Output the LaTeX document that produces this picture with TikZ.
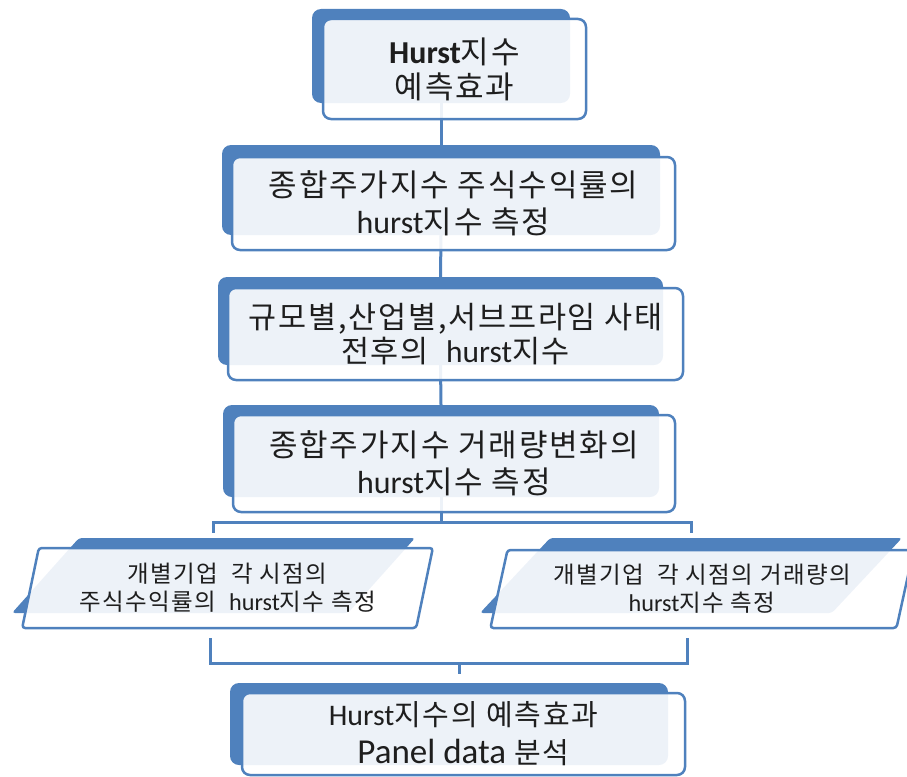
\documentclass[tikz,border=0pt]{standalone}
\usepackage{fontspec}
\setmainfont[LetterSpace=6]{Noto Sans CJK KR}
\newfontfamily\lat[Scale=1.03]{Carlito}
\usepackage{xcolor}
\usepackage{tikz}
\usetikzlibrary{shapes,positioning,calc}

\definecolor{accent}{HTML}{4F81BD}
\definecolor{ink}{HTML}{1E1E1E}

\begin{document}
\begin{tikzpicture}[x=1pt, y=-1pt,
    backbox/.style={rectangle, rounded corners=9pt, fill=accent, inner sep=0pt},
    frontbox/.style={rectangle, rounded corners=8pt, draw=accent, line width=2.5pt, fill=white, fill opacity=0.9, text opacity=1, text=ink, align=center, inner sep=0pt, font=\fontsize{31}{37}\selectfont},
    backslant/.style={trapezium, trapezium left angle=76, trapezium right angle=104, trapezium stretches=true, rounded corners=3pt, fill=accent, inner sep=2pt},
    frontslant/.style={trapezium, trapezium left angle=76, trapezium right angle=104, trapezium stretches=true, rounded corners=3pt, draw=accent, line width=2.5pt, fill=white, fill opacity=0.9, text opacity=1, text=ink, align=center, inner sep=2pt, font=\fontsize{23.5}{28}\selectfont},
    link/.style={draw=accent, line width=3pt}
]
    \useasboundingbox (0,0) rectangle (907,776);

    % blue back plates
    \node[backbox, minimum width=258pt, minimum height=94pt] (goalbk) at (441,56) {};
    \node[backbox, minimum width=438pt, minimum height=90pt] (retbk) at (441,190) {};
    \node[backbox, minimum width=445pt, minimum height=88pt] (sizebk) at (440.5,321) {};
    \node[backbox, minimum width=436pt, minimum height=92pt] (volbk) at (441,451) {};
    \node[backslant, minimum width=403pt, minimum height=75pt] (firmretbk) at (213.5,575.5) {~};
    \node[backslant, minimum width=422pt, minimum height=75pt] (firmvolbk) at (691,575.5) {~};
    \node[backbox, minimum width=438pt, minimum height=82pt] (panelbk) at (449,724) {};

    % connectors
    \coordinate (fork) at (441,522);
    \coordinate (join) at (459,663);
    \draw[link] (goalbk.south) -- (retbk.north);
    \draw[link] (retbk.south) -- (sizebk.north);
    \draw[link] (sizebk.south) -- (volbk.north);
    \draw[link] (volbk.south) -- (fork);
    \draw[link, shorten >=5pt] (fork) -| (firmretbk.north);
    \draw[link, shorten >=5pt] (fork) -| (firmvolbk.north);
    \draw[link] ([xshift=-3pt, yshift=-25pt]firmretbk.south) |- (join) -| ([xshift=-4pt, yshift=-25pt]firmvolbk.south);
    \draw[link, shorten >=9pt] (join) -- (join |- panelbk.north);

    % front boxes
    \node[frontbox, minimum width=263pt, minimum height=100pt, font=\fontsize{31}{35}\selectfont] (goal) at (454.5,69) {{\lat\bfseries Hurst}지수\\예측효과};
    \node[frontbox, minimum width=443pt, minimum height=93pt] (ret) at (453.5,203.5) {종합주가지수 주식수익률의\\{\lat hurst}지수 측정};
    \node[frontbox, minimum width=455pt, minimum height=92pt, font=\fontsize{30.5}{34}\selectfont] (size) at (455.5,334) {규모별,산업별,서브프라임 사태\\전후의~ {\lat hurst}지수};
    \node[frontbox, minimum width=442pt, minimum height=97pt] (vol) at (454,463.5) {종합주가지수 거래량변화의\\{\lat hurst}지수 측정};
    \node[frontslant, minimum width=411pt, minimum height=80pt] (firmret) at (227.5,588) {개별기업~ 각 시점의\\주식수익률의~ {\lat hurst}지수 측정};
    \node[frontslant, minimum width=425pt, minimum height=78pt] (firmvol) at (702,589) {개별기업~ 각 시점의 거래량의\\{\lat hurst}지수 측정};
    \node[frontbox, minimum width=443pt, minimum height=82pt, font=\fontsize{29}{38}\selectfont] (panel) at (463.5,734) {{\lat Hurst}지수의 예측효과\\{\lat\fontsize{34}{38}\selectfont Panel data} 분석};
\end{tikzpicture}
\end{document}
